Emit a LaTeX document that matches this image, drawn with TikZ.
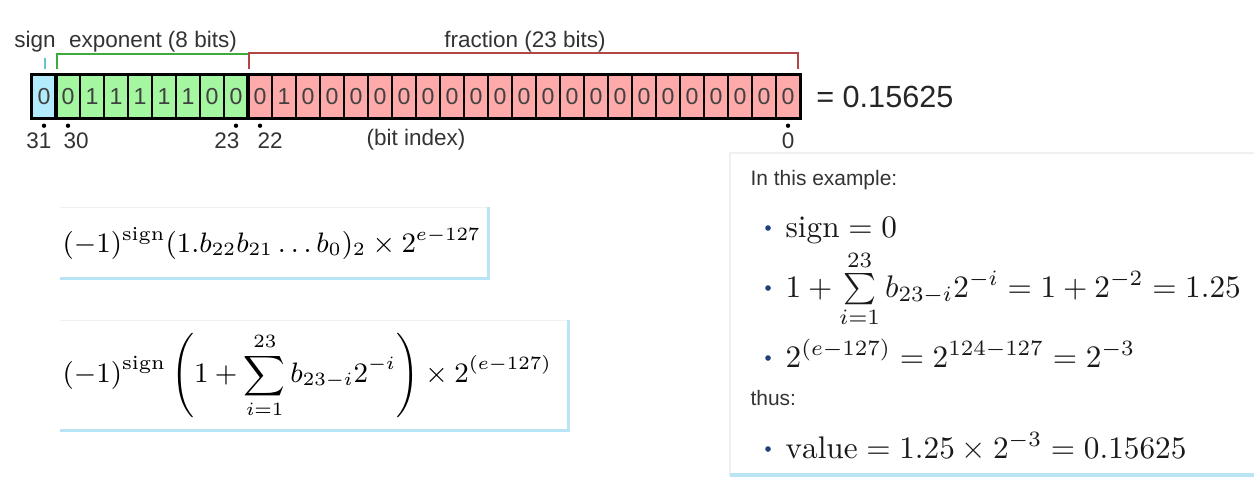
\documentclass[tikz,border=0pt]{standalone}
\usepackage{amsmath}
\usepackage{xcolor}
\usepackage{fontspec}
\newfontfamily\lab{Liberation Sans}
\usetikzlibrary{positioning,calc}

\definecolor{signc}{RGB}{178,236,252}
\definecolor{expc}{RGB}{164,246,160}
\definecolor{fracc}{RGB}{255,170,170}
\definecolor{signl}{RGB}{100,196,210}
\definecolor{expl}{RGB}{60,170,60}
\definecolor{fracl}{RGB}{176,70,70}
\definecolor{shadec}{RGB}{184,228,246}
\definecolor{bulletc}{RGB}{32,66,122}

\begin{document}
\begin{tikzpicture}[x=0.32pt, y=-0.32pt,
    cell/.style={draw, line width=0.45pt, minimum width=7.68pt, minimum height=13.76pt, inner sep=0pt, font=\lab\fontsize{7.4}{8}\selectfont, text=black!75},
    group/.style={draw, line width=0.8pt},
    lbl/.style={inner sep=0pt, font=\lab\fontsize{7.2}{8}\selectfont, text=black!80},
    fbox/.style={fill=white, inner xsep=0.64pt, inner ysep=0pt, align=left},
    shadeline/.style={draw=shadec, line width=1pt},
    faint/.style={draw=black!6, line width=0.4pt},
    row/.style={inner sep=0pt, anchor=base west, font=\fontsize{10}{12}\selectfont, text=black!90}]
    \useasboundingbox (0,0) rectangle (1254,481);

    % bit cells, from bit 31 down to bit 0
    \foreach \v [count=\k from 0] in {0, 0,1,1,1,1,1,0,0, 0,1,0,0,0,0,0,0,0,0,0,0,0,0,0,0,0,0,0,0,0,0,0} {
        \pgfmathtruncatemacro\n{31-\k}
        \ifnum\k=0 \def\cellc{signc}\else\ifnum\k<9 \def\cellc{expc}\else\def\cellc{fracc}\fi\fi
        \node (b\n) [cell, fill=\cellc] at (44+24*\k, 96.5) {\v};
    }
    \draw [group] (b31.north west) rectangle (b31.south east);
    \draw [group] (b30.north west) rectangle (b23.south east);
    \draw [group] (b22.north west) rectangle (b0.south east);

    % brackets and field names
    \draw [signl, line width=0.6pt] ([shift={(1,-5)}]b31.north) -- ++(0,-11);
    \draw [expl, line width=0.6pt] ([shift={(2,-5)}]b30.north west) -- ++(0,-15) -| ([shift={(0,-5)}]b23.north east);
    \draw [fracl, line width=0.6pt] ([shift={(2,-5)}]b22.north west) -- ++(0,-16) -| ([shift={(-3,-5)}]b0.north east);
    \node (sign) [lbl] at (35,42) {sign};
    \node (expo) [lbl] at (153,42) {exponent (8 bits)};
    \node (frac) [lbl] at (525,42) {fraction (23 bits)};

    % bit index marks
    \foreach \b in {31,30,23,22,0}
        \fill ([shift={(0,7)}]b\b.south) circle[radius=0.7pt];
    \node (i31) [lbl, anchor=east] at ([shift={(8,22)}]b31.south) {31};
    \node (i30) [lbl, anchor=west] at ([shift={(-5,22)}]b30.south) {30};
    \node (i23) [lbl, anchor=east] at ([shift={(4,22)}]b23.south) {23};
    \node (i22) [lbl, anchor=west] at ([shift={(-3,22)}]b22.south) {22};
    \node (i0) [lbl] at ([shift={(0,22)}]b0.south) {0};
    \node (bitidx) [lbl] at (416,140) {(bit index)};
    \node (val) [inner sep=0pt, right=4.8pt of b0, font=\lab\fontsize{9.8}{11}\selectfont, text=black!85] {= 0.15625};

    % general formulas
    \node (f1) [fbox, anchor=west, text width=135.4pt, minimum height=22.4pt, font=\fontsize{9.05}{11}\selectfont] at (60,243)
        {$(-1)^{\mathrm{sign}}(1.b_{22}b_{21}\ldots b_0)_2\times 2^{e-127}$};
    \node (f2) [fbox, anchor=west, text width=160.96pt, minimum height=34.9pt, font=\fontsize{9.2}{11}\selectfont] at (60,375.5)
        {$\displaystyle(-1)^{\mathrm{sign}}\left(1+\sum_{i=1}^{23} b_{23-i}2^{-i}\right)\times 2^{(e-127)}$};
    \foreach \f in {f1,f2} {
        \draw [faint] (\f.north west) -- (\f.north east);
        \draw [shadeline] (\f.north east) -- (\f.south east) -- (\f.south west);
    }

    % worked example
    \draw [faint] (1254,153) -- (730,153) -- (730,475);
    \draw [shadeline] (730,475) -- (1254,475);
    \node (ex) [lbl, anchor=west, font=\lab\fontsize{6.7}{8}\selectfont] at (750,180) {In this example:};
    \node (r1) [row] at (785,237) {$\mathrm{sign} = 0$};
    \node (r2) [row] at (785,297) {$1+\sum\limits_{i=1}^{23} b_{23-i}2^{-i} = 1+2^{-2} = 1.25$};
    \node (r3) [row] at (785,367) {$2^{(e-127)} = 2^{124-127} = 2^{-3}$};
    \node (thus) [lbl, anchor=west, font=\lab\fontsize{6.7}{8}\selectfont] at (750,398) {thus:};
    \node (r4) [row] at (785,458) {$\mathrm{value} = 1.25\times 2^{-3} = 0.15625$};
    \foreach \r in {r1,r2,r3,r4}
        \fill [bulletc] ([shift={(-17,-9)}]\r.base west) circle[radius=0.9pt];
\end{tikzpicture}
\end{document}
